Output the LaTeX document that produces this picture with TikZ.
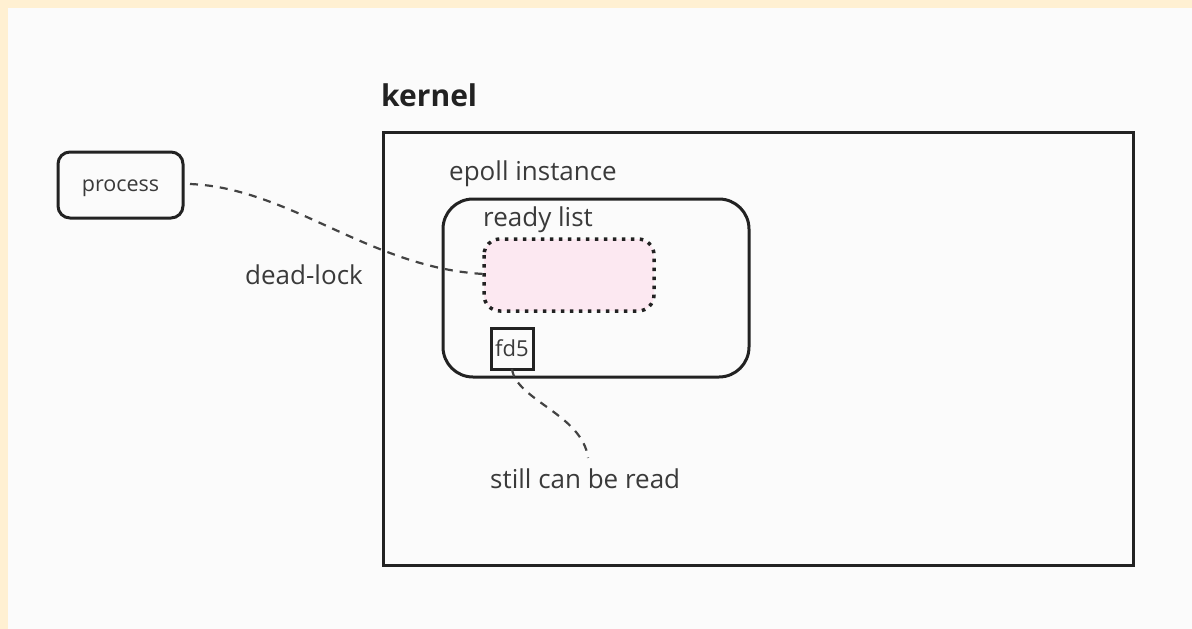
\documentclass[tikz,border=0pt]{standalone}
\usepackage{fontspec}
\setmainfont{Open Sans}
\definecolor{paper}{HTML}{FBFBFB}
\definecolor{band}{HTML}{FFF0D2}
\definecolor{ink}{HTML}{222222}
\definecolor{txt}{HTML}{3A3A3A}
\definecolor{rosy}{HTML}{FCE8F1}
\tikzset{
  frame/.style={draw=ink, line width=3pt},
  label/.style={text=txt, inner sep=0pt, anchor=base west, font=\fontsize{26}{30}\selectfont},
  link/.style={draw=ink!85, line width=2.2pt, dash pattern=on 8pt off 7pt},
}
\begin{document}
\begin{tikzpicture}[x=1pt, y=-1pt]
  % page background with the pale band along the left and top
  \fill[band] (0,0) rectangle (1192,629);
  \fill[paper] (8,8) rectangle (1192,629);
  \useasboundingbox (0,0) rectangle (1192,629);

  % process box
  \draw[frame, rounded corners=12pt] (58,152) rectangle (183,218);
  \node[inner sep=0pt, text=txt, anchor=base, font=\fontsize{21.5}{25}\selectfont] (proc) at (120.5,191) {process};
  \coordinate (procR) at (190,184);

  % kernel
  \node[label, font=\bfseries\fontsize{30}{34}\selectfont, text=ink] (kt) at (381,106) {kernel};
  \draw[frame] (383,132) rectangle (1133,565);

  % epoll instance
  \node[label] (et) at (449,180) {epoll instance};
  \draw[frame, rounded corners=30pt] (443,199) rectangle (749,377);

  % ready list
  \node[label] (rt) at (483,226) {ready list};
  \path[fill=rosy, rounded corners=16pt] (484,239) rectangle (654,311);
  \draw[draw=ink, line width=3.5pt, dash pattern=on 3.5pt off 5.5pt, rounded corners=16pt]
    (484,239) rectangle (654,311);
  \coordinate (rl) at (484,274);

  % fd5
  \draw[draw=ink, line width=3pt] (491,328) rectangle (533,369);
  \node[inner sep=0pt, text=txt, anchor=base, font=\fontsize{22}{26}\selectfont] (fd) at (512,356) {fd5};
  \coordinate (fdB) at (512,369);

  % annotations
  \node[label] (dl) at (245,284) {dead-lock};
  \node[label] (scr) at (490,488) {still can be read};
  \coordinate (scrT) at (588,458);

  % connectors
  \draw[link] (procR) .. controls (290,188) and (370,268) .. (rl);
  \draw[link] (fdB) .. controls (516,400) and (583,415) .. (scrT);
\end{tikzpicture}
\end{document}
